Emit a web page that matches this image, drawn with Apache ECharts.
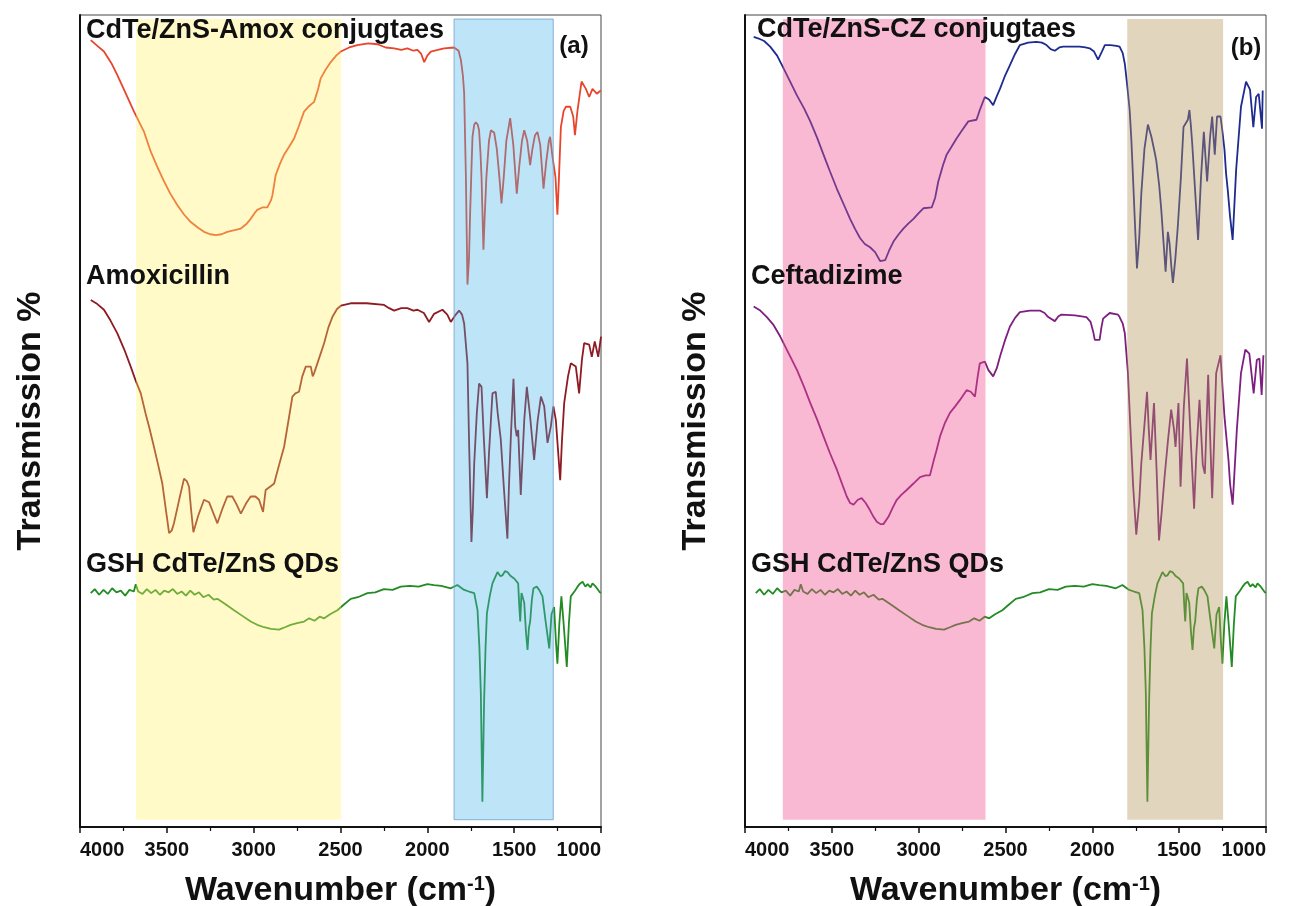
<!DOCTYPE html>
<html>
<head>
<meta charset="utf-8">
<script src="https://cdn.jsdelivr.net/npm/echarts@6/dist/echarts.min.js"></script>
<style>
  html, body { margin: 0; padding: 0; background: #fff; }
  #chart { width: 1293px; height: 906px; }
</style>
</head>
<body>
<div id="chart"></div>
<script>
// wavenumber (cm-1), transmission (arbitrary, offset traces)
const amoxConj = [[3938,96.9],[3900,96.2],[3862,95.5],[3820,94.1],[3785,92.6],[3740,90.5],[3689,88.1],[3631,85.6],[3593,83.2],[3555,81.3],[3516,79.5],[3480,78.0],[3440,76.6],[3400,75.4],[3362,74.5],[3320,73.8],[3286,73.3],[3250,73.0],[3218,72.9],[3185,73.0],[3152,73.3],[3110,73.5],[3074,73.7],[3040,74.3],[3017,74.9],[2995,75.6],[2979,76.0],[2950,76.3],[2921,76.3],[2900,77.2],[2892,77.8],[2873,80.3],[2850,81.6],[2825,82.8],[2795,83.8],[2767,84.8],[2740,86.3],[2710,88.1],[2680,88.8],[2652,89.3],[2630,90.8],[2614,92.2],[2585,93.3],[2556,94.2],[2525,95.0],[2498,95.5],[2450,96.0],[2403,96.3],[2340,96.5],[2287,96.4],[2240,96.0],[2191,95.9],[2150,95.7],[2115,95.9],[2080,95.6],[2057,95.7],[2035,95.2],[2018,94.2],[2000,95.0],[1980,95.5],[1940,95.7],[1903,95.9],[1846,96.0],[1836,96.1],[1820,95.6],[1807,94.5],[1795,92.5],[1788,90.4],[1778,80.1],[1769,66.8],[1760,70],[1753,76],[1746,81],[1740,85.0],[1730,86.5],[1721,86.8],[1710,86.5],[1702,85.8],[1694,83],[1688,80.1],[1677,71.1],[1670,75],[1660,80],[1645,84.5],[1634,85.8],[1615,85.5],[1600,83.5],[1585,80],[1573,76.8],[1560,80],[1545,84.5],[1523,87.3],[1505,84],[1485,78.0],[1470,81.5],[1455,84.5],[1442,85.8],[1425,84.5],[1408,81.5],[1395,83.5],[1380,85.2],[1366,85.6],[1350,84],[1331,78.6],[1315,82],[1300,84.5],[1293,85.0],[1279,82.5],[1270,82.5],[1262,80],[1251,75.4],[1242,80],[1231,86.2],[1215,88.2],[1202,88.7],[1177,88.7],[1160,87.5],[1150,85.2],[1135,88.3],[1112,91.8],[1087,90.9],[1068,89.9],[1049,90.9],[1024,90.3],[1001,90.7]];

const amox = [[3938,64.9],[3900,64.4],[3862,63.7],[3825,62.4],[3785,60.8],[3745,58.8],[3708,56.7],[3680,55.0],[3650,53.4],[3622,50.9],[3600,49.1],[3574,46.8],[3550,44.6],[3526,42.3],[3505,39],[3487,36.2],[3472,36.5],[3459,37.4],[3430,40.2],[3401,42.9],[3385,42.6],[3372,41.9],[3360,39],[3347,36.3],[3320,38.3],[3286,40.3],[3257,40.0],[3235,38.8],[3209,37.4],[3180,39.2],[3152,40.7],[3123,40.7],[3100,39.8],[3074,38.6],[3045,39.8],[3017,40.7],[2990,40.7],[2969,40.3],[2946,38.8],[2931,41.5],[2900,42.0],[2882,42.3],[2855,44.5],[2825,46.8],[2800,50],[2777,53.0],[2760,53.4],[2739,53.6],[2720,55.5],[2700,56.7],[2671,56.7],[2660,55.5],[2652,55.9],[2633,57.1],[2594,59.6],[2570,61.5],[2547,62.8],[2520,63.8],[2498,64.2],[2441,64.5],[2350,64.5],[2249,64.3],[2220,63.9],[2191,63.6],[2150,63.9],[2115,63.9],[2080,63.6],[2057,63.7],[2020,63.3],[1990,62.2],[1961,63.2],[1913,63.7],[1885,63.1],[1865,62.2],[1840,63.0],[1817,63.6],[1800,63.1],[1788,62.0],[1769,57.1],[1759,46.8],[1746,35.1],[1738,39],[1730,44.8],[1715,51],[1702,54.6],[1688,54.2],[1675,48],[1657,40.5],[1645,46],[1625,53.4],[1606,53.6],[1595,51],[1577,47.7],[1560,42],[1539,35.5],[1530,42],[1519,48.1],[1504,55.2],[1494,49.3],[1485,48.1],[1477,48.9],[1462,40.9],[1452,45.5],[1442,50.1],[1427,54.2],[1408,50.5],[1385,45.2],[1365,50],[1346,53.0],[1327,51.8],[1308,47.3],[1289,49.3],[1274,51.8],[1260,50.1],[1235,42.7],[1225,47.5],[1212,52.2],[1190,55.5],[1174,57.1],[1145,56.7],[1126,53.4],[1110,57.5],[1097,59.6],[1068,59.4],[1053,57.9],[1036,59.8],[1016,57.9],[1000,60.4]];

const gsh = [[3938,28.8],[3915,29.3],[3890,28.6],[3865,29.2],[3840,28.7],[3815,29.4],[3790,28.9],[3765,29.1],[3740,28.5],[3715,29.2],[3690,29.0],[3679,29.9],[3665,29.0],[3640,28.7],[3615,29.3],[3590,28.8],[3565,29.2],[3540,28.6],[3515,29.1],[3490,28.9],[3465,29.3],[3440,28.7],[3415,29.0],[3390,28.5],[3365,29.1],[3340,28.6],[3315,28.9],[3290,28.3],[3260,28.6],[3230,28.0],[3209,28.1],[3160,27.4],[3113,26.7],[3065,26.0],[3017,25.3],[2980,24.9],[2940,24.6],[2900,24.4],[2854,24.3],[2820,24.6],[2787,24.9],[2750,25.1],[2710,25.3],[2680,25.7],[2650,25.4],[2620,25.9],[2594,25.7],[2560,26.2],[2518,26.7],[2480,27.4],[2441,28.1],[2400,28.3],[2345,28.8],[2300,28.9],[2250,29.3],[2200,29.2],[2153,29.6],[2100,29.7],[2050,29.6],[2000,29.9],[1961,29.8],[1920,29.7],[1865,29.4],[1827,29.8],[1788,29.2],[1760,29.0],[1730,28.8],[1711,26.7],[1700,22],[1692,16.5],[1683,3.1],[1673,15.6],[1665,22],[1657,26.3],[1640,28.5],[1625,30.0],[1596,31.4],[1580,30.9],[1567,31.0],[1553,31.5],[1539,31.4],[1520,30.9],[1500,30.6],[1477,30.0],[1470,27],[1465,25.3],[1458,28.8],[1452,28.4],[1442,27.6],[1432,24],[1423,21.8],[1415,24.5],[1408,25.3],[1398,28],[1389,29.4],[1370,29.6],[1356,29.2],[1337,28.4],[1320,25.5],[1298,22.0],[1285,26.2],[1270,27.1],[1260,23],[1251,20.1],[1240,25],[1228,28.4],[1215,25],[1197,19.7],[1185,25],[1174,28.4],[1150,29.1],[1135,29.6],[1120,30.0],[1106,30.2],[1090,29.6],[1077,29.9],[1060,29.5],[1049,30.0],[1030,29.6],[1010,29.0],[1001,28.8]];

const czConj = [[3950,97.3],[3921,97.1],[3890,96.8],[3855,96.1],[3815,95.0],[3777,93.4],[3740,91.8],[3701,90.1],[3660,88.5],[3624,86.9],[3585,84.9],[3548,82.8],[3510,80.7],[3471,78.6],[3430,76.6],[3395,74.9],[3365,73.6],[3337,72.5],[3310,71.8],[3280,71.4],[3251,70.8],[3222,69.7],[3193,69.8],[3170,71.0],[3145,72.1],[3115,73.0],[3088,73.7],[3060,74.3],[3030,74.9],[3000,75.6],[2973,76.2],[2925,76.3],[2905,77.5],[2887,79.5],[2860,81.5],[2839,82.8],[2810,83.8],[2782,84.8],[2750,85.8],[2714,86.9],[2667,87.1],[2648,88.3],[2619,89.9],[2595,89.6],[2571,88.9],[2550,90.0],[2532,90.9],[2505,92.4],[2475,93.8],[2445,95.2],[2417,96.3],[2370,96.6],[2322,96.7],[2290,96.6],[2264,96.3],[2240,95.8],[2216,95.6],[2190,96.0],[2168,96.1],[2120,96.1],[2073,96.1],[2040,96.0],[2015,95.9],[1990,95.5],[1967,94.5],[1945,95.5],[1928,96.3],[1895,96.3],[1862,96.2],[1843,96.1],[1825,95.3],[1813,94.0],[1800,91.5],[1785,88.3],[1775,84.5],[1766,80.1],[1755,74.5],[1743,68.8],[1730,72.5],[1718,78.0],[1700,83.5],[1680,86.5],[1660,85.0],[1645,83.5],[1632,82.1],[1615,79],[1603,76.0],[1590,72],[1578,68.4],[1565,73.3],[1555,71.8],[1545,69],[1536,67.0],[1522,70],[1508,73.9],[1490,80],[1475,86.2],[1450,87.1],[1441,88.3],[1433,86.5],[1425,84.2],[1406,77.6],[1391,72.3],[1374,80.1],[1358,85.6],[1339,79.5],[1322,85.0],[1310,87.5],[1295,82.8],[1282,87.5],[1262,87.5],[1250,85.5],[1239,83.4],[1230,80.5],[1220,78.4],[1207,75.2],[1192,72.3],[1172,80.9],[1144,88.7],[1115,91.8],[1092,90.8],[1073,86.2],[1057,89.9],[1042,90.3],[1023,86.0],[1019,90.7]];

const ceft = [[3950,64.1],[3912,63.6],[3874,62.8],[3835,61.8],[3797,60.4],[3750,58.4],[3701,56.3],[3660,54.2],[3624,52.2],[3585,50.2],[3548,48.1],[3510,46.0],[3471,44.0],[3440,42.2],[3414,40.7],[3395,39.9],[3375,39.7],[3350,40.3],[3328,40.5],[3305,39.9],[3280,39.0],[3260,38.2],[3241,37.6],[3220,37.3],[3203,37.3],[3174,38.2],[3150,39.3],[3126,40.3],[3100,40.9],[3069,41.5],[3030,42.3],[2992,43.1],[2960,43.3],[2935,43.3],[2915,45.0],[2897,46.4],[2877,48.1],[2850,49.7],[2820,51.0],[2790,51.8],[2762,52.6],[2724,53.8],[2700,53.6],[2676,53.0],[2660,55.5],[2648,57.1],[2619,57.3],[2599,56.3],[2571,55.5],[2550,56.5],[2532,57.9],[2505,59.8],[2475,61.6],[2445,62.7],[2417,63.4],[2360,63.6],[2302,63.6],[2275,63.3],[2254,62.8],[2216,62.3],[2195,62.9],[2178,63.1],[2100,63.0],[2034,62.8],[2010,62.2],[1995,61],[1986,60.0],[1958,60.0],[1948,61.5],[1938,62.6],[1900,63.3],[1852,63.1],[1843,62.8],[1825,62],[1813,60.8],[1795,55.9],[1782,49.7],[1765,42],[1747,36.0],[1730,40],[1718,44.8],[1700,49.5],[1685,53.6],[1675,49],[1665,45.2],[1645,52.2],[1630,44],[1616,35.3],[1600,39],[1584,43.1],[1565,47.5],[1546,51.4],[1530,49],[1521,46.8],[1504,52.2],[1492,41.9],[1473,51.8],[1455,57.7],[1445,53],[1436,48.9],[1425,44],[1414,39.2],[1402,45.6],[1383,52.6],[1364,44.6],[1352,43.5],[1333,55.7],[1320,47],[1310,40.5],[1298,48],[1287,55.9],[1262,58.1],[1250,54],[1239,50.5],[1216,45.2],[1207,42.3],[1192,39.7],[1168,48.9],[1144,55.9],[1119,58.8],[1096,58.3],[1071,53.4],[1053,57.5],[1038,57.7],[1025,53.2],[1015,58.1]];

// highlighted wavenumber ranges [from, to]
const bandsA = [[3677, 2497], [1846, 1275]];
const bandsB = [[3782, 2615], [1799, 1247]];
const xTicks = [4000, 3500, 3000, 2500, 2000, 1500, 1000];

const FONT = '"Liberation Sans", Arial, sans-serif';
const chart = echarts.init(document.getElementById("chart"));

function xAxisFor(i) {
  return {
    type: "value", gridIndex: i, inverse: true,
    min: xTicks[xTicks.length - 1], max: xTicks[0], interval: 500,
    axisLine: { show: true, onZero: false, lineStyle: { color: "#111", width: 2 } },
    axisTick: { show: true, inside: false, length: 6, lineStyle: { color: "#111", width: 1.5 } },
    minorTick: { show: true, splitNumber: 2, length: 4, lineStyle: { color: "#111", width: 1.2 } },
    splitLine: { show: false },
    axisLabel: {
      fontSize: 20, fontWeight: "bold", color: "#111", fontFamily: FONT, margin: 13,
      alignMinLabel: "right", alignMaxLabel: "left",
      formatter: (v) => String(v),
    },
    name: "{t|Wavenumber (cm}{s|-1}{t|)}",
    nameLocation: "middle",
    nameGap: 47,
    nameTextStyle: {
      rich: {
        t: { fontSize: 34, fontWeight: "bold", fontFamily: FONT, color: "#111" },
        s: { fontSize: 20, fontWeight: "bold", fontFamily: FONT, color: "#111", verticalAlign: "top" },
      },
    },
  };
}

function yAxisFor(i) {
  return {
    type: "value", gridIndex: i, min: 0, max: 100,
    axisLine: { show: true, lineStyle: { color: "#111", width: 2 } },
    axisTick: { show: false },
    axisLabel: { show: false },
    splitLine: { show: false },
    name: "Transmission %",
    nameLocation: "middle",
    nameGap: 32,
    nameTextStyle: { fontSize: 34, fontWeight: "bold", fontFamily: FONT, color: "#111" },
  };
}

function trace(name, data, color, i) {
  return {
    name, type: "line", data, xAxisIndex: i, yAxisIndex: i,
    showSymbol: false, symbol: "none", z: 2,
    lineStyle: { color, width: 1.8 },
  };
}

function bands(ranges, styles, i) {
  return {
    type: "line", data: [], xAxisIndex: i, yAxisIndex: i, z: 10,
    markArea: {
      silent: true, z: 10,
      data: ranges.map((r, k) => [
        { xAxis: r[0], yAxis: 99.5, itemStyle: styles[k] },
        { xAxis: r[1], yAxis: 0.9 },
      ]),
    },
  };
}

const option = {
  backgroundColor: "#fff",
  animation: false,
  grid: [
    { left: 80, top: 15, width: 521, height: 812, outerBoundsMode: "none", show: true, borderColor: "#444", borderWidth: 1 },
    { left: 745, top: 15, width: 521, height: 812, outerBoundsMode: "none", show: true, borderColor: "#444", borderWidth: 1 },
  ],
  xAxis: [xAxisFor(0), xAxisFor(1)],
  yAxis: [yAxisFor(0), yAxisFor(1)],
  series: [
    trace("CdTe/ZnS-Amox conjugtaes", amoxConj, "#E8452C", 0),
    trace("Amoxicillin", amox, "#8E1B22", 0),
    trace("GSH CdTe/ZnS QDs", gsh, "#238B23", 0),
    trace("CdTe/ZnS-CZ conjugtaes", czConj, "#1E2B8F", 1),
    trace("Ceftadizime", ceft, "#7E1E80", 1),
    trace("GSH CdTe/ZnS QDs ", gsh, "#238B23", 1),
    bands(bandsA, [
      { color: "rgba(255,241,98,0.35)" },
      { color: "rgba(69,178,235,0.35)", borderColor: "rgba(110,160,205,0.8)", borderWidth: 1 },
    ], 0),
    bands(bandsB, [
      { color: "rgba(242,80,142,0.4)" },
      { color: "rgba(182,150,92,0.4)" },
    ], 1),
  ],
  graphic: [
    ["CdTe/ZnS-Amox conjugtaes", 86, 31, 27, "left"],
    ["Amoxicillin", 86, 277, 27, "left"],
    ["GSH CdTe/ZnS QDs", 86, 565, 27, "left"],
    ["(a)", 574, 46, 24, "center"],
    ["CdTe/ZnS-CZ conjugtaes", 757, 30, 27, "left"],
    ["Ceftadizime", 751, 277, 27, "left"],
    ["GSH CdTe/ZnS QDs", 751, 565, 27, "left"],
    ["(b)", 1246, 48, 24, "center"],
  ].map(([text, x, y, size, align]) => ({
    type: "text", x, y, z: 20,
    style: {
      text, fill: "#111", align, verticalAlign: "middle",
      font: `bold ${size}px ${FONT}`,
    },
  })),
};

chart.setOption(option);
</script>
</body>
</html>
